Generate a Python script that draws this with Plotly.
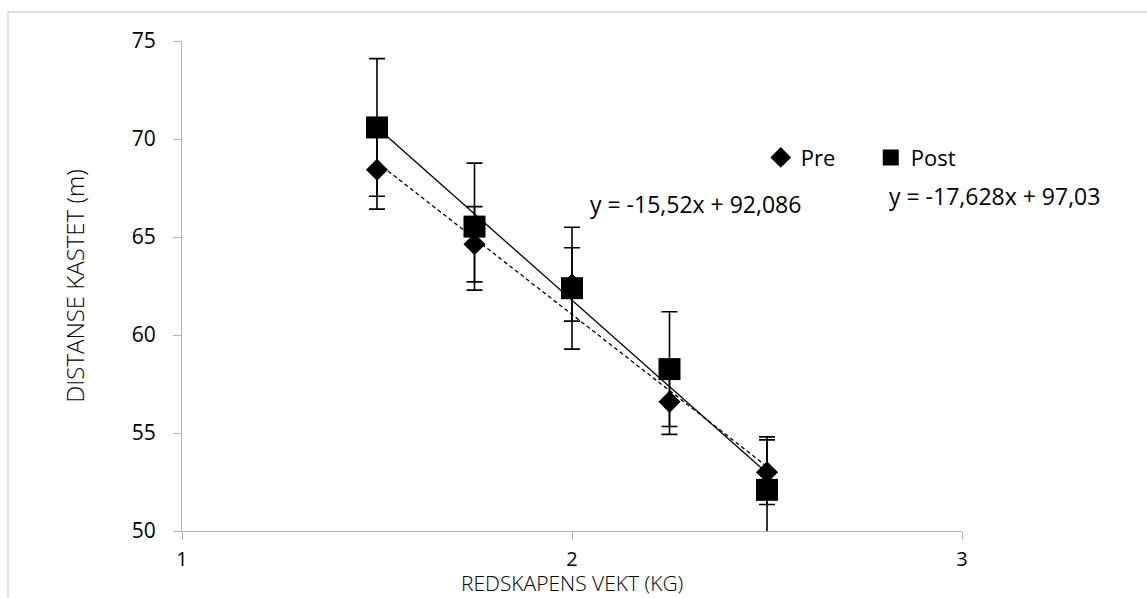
import plotly.graph_objects as go

# Implement weight (kg) and mean throwing distance (m), before and after training
weights = [1.5, 1.75, 2.0, 2.25, 2.5]
pre_mean = [68.43, 64.63, 62.58, 56.59, 53.00]
pre_sd = [2.01, 1.92, 1.87, 1.66, 1.65]
post_mean = [70.59, 65.53, 62.39, 58.26, 52.10]
post_sd = [3.51, 3.24, 3.11, 2.93, 2.70]

# Linear trendline coefficients (y = slope * x + intercept)
pre_slope, pre_intercept = -15.52, 92.086
post_slope, post_intercept = -17.628, 97.03

x_title = "REDSKAPENS VEKT (KG)"
y_title = "DISTANSE KASTET (m)"

FONT = "Open Sans"
AXIS_GRAY = "#b5b5b5"


def trend(slope, intercept, xs):
    return [slope * x + intercept for x in xs]


def eq_text(slope, intercept):
    fmt = lambda v: f"{v:g}".replace(".", ",")
    return f"y = {fmt(slope)}x + {fmt(intercept)}"


fit_x = [min(weights), max(weights)]

fig = go.Figure()

# Trendlines
fig.add_trace(go.Scatter(
    x=fit_x, y=trend(pre_slope, pre_intercept, fit_x), mode="lines",
    line=dict(color="black", width=1.3, dash="4px,3px"), showlegend=False,
    hoverinfo="skip"))
fig.add_trace(go.Scatter(
    x=fit_x, y=trend(post_slope, post_intercept, fit_x), mode="lines",
    line=dict(color="black", width=1.3), showlegend=False, hoverinfo="skip"))

# Measured means with standard deviation bars
fig.add_trace(go.Scatter(
    x=weights, y=pre_mean, mode="markers", name="Pre",
    marker=dict(symbol="diamond", size=17, color="black", line=dict(width=0)),
    error_y=dict(type="data", array=pre_sd, color="black", thickness=1.6, width=8)))
fig.add_trace(go.Scatter(
    x=weights, y=post_mean, mode="markers", name="Post",
    marker=dict(symbol="square", size=22, color="black", line=dict(width=0)),
    error_y=dict(type="data", array=post_sd, color="black", thickness=1.6, width=8)))

# Trendline equations
fig.add_annotation(text=eq_text(pre_slope, pre_intercept), xref="paper", yref="paper",
                   x=0.5205, y=0.668, xanchor="left", yanchor="middle", showarrow=False,
                   font=dict(family=FONT, size=23, color="black"))
fig.add_annotation(text=eq_text(post_slope, post_intercept), xref="paper", yref="paper",
                   x=0.9038, y=0.684, xanchor="left", yanchor="middle", showarrow=False,
                   font=dict(family=FONT, size=23, color="black"))

# x-axis title, placed just under the tick labels
fig.add_annotation(text=x_title, xref="paper", yref="paper", x=0.5, y=-0.106,
                   xanchor="center", yanchor="middle", showarrow=False, borderpad=0,
                   font=dict(family=FONT, size=21, color="black", weight=300))

# Chart frame
fig.add_shape(type="rect", xref="paper", yref="paper", x0=-0.2231, x1=1.4,
              y0=-0.3, y1=1.0592, line=dict(color="#d4d4d4", width=1.3),
              fillcolor="rgba(0,0,0,0)", layer="below")

fig.update_layout(
    width=1147, height=598,
    margin=dict(l=182, r=185, t=41, b=67, autoexpand=False),
    paper_bgcolor="white", plot_bgcolor="white",
    font=dict(family=FONT, size=22, color="black"),
    showlegend=True,
    legend=dict(orientation="h", x=0.742, y=0.762, xanchor="left", yanchor="middle",
                font=dict(family=FONT, size=22, color="black"),
                bgcolor="rgba(0,0,0,0)", entrywidth=65, entrywidthmode="pixels",
                itemclick=False),
    xaxis=dict(range=[1, 3], tickmode="linear", tick0=1, dtick=1, automargin=False,
               showgrid=False, zeroline=False, showline=True, linecolor=AXIS_GRAY,
               linewidth=1.3, ticks="outside", ticklen=8, tickcolor=AXIS_GRAY,
               tickwidth=1.3, ticklabelstandoff=2,
               tickfont=dict(family=FONT, size=20, color="black")),
    yaxis=dict(range=[50, 75], tickmode="linear", tick0=50, dtick=5, automargin=False,
               showgrid=False, zeroline=False, showline=True, linecolor=AXIS_GRAY,
               linewidth=1.3, ticks="outside", ticklen=8, tickcolor=AXIS_GRAY,
               tickwidth=1.3, ticklabelstandoff=13,
               tickfont=dict(family=FONT, size=21, color="black"),
               title=dict(text=y_title, standoff=40,
                          font=dict(family=FONT, size=24, color="black", weight=300))),
)

fig.write_html("out.html")
